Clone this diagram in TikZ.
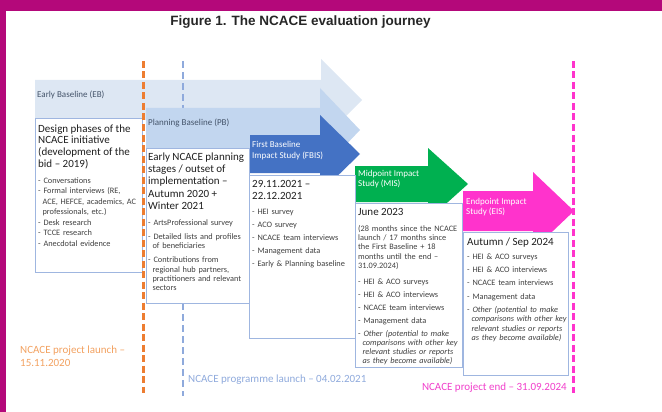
\documentclass[tikz,border=0pt]{standalone}
\usepackage{fontspec}
\setmainfont{Carlito}
\newfontfamily\titlefont{Liberation Sans}

\definecolor{framepurple}{HTML}{B4087A}
\definecolor{ebblue}{HTML}{DDE7F3}
\definecolor{pbblue}{HTML}{C2D6EF}
\definecolor{fbisblue}{HTML}{4472C4}
\definecolor{misgreen}{HTML}{00B050}
\definecolor{eispink}{HTML}{FF33CC}
\definecolor{boxline}{HTML}{9FB6E0}
\definecolor{phasegrey}{HTML}{44546A}
\definecolor{launchorange}{HTML}{ED7D31}
\definecolor{launchtext}{HTML}{F2A160}
\definecolor{progblue}{HTML}{8FAADC}
\definecolor{endpink}{HTML}{F03FCB}

\newcommand{\contind}{\hspace*{4.4pt}}

\tikzset{
  stagebox/.style={draw=boxline,fill=white,line width=0.8pt},
  stagehead/.style={anchor=north west,align=left,inner sep=0pt,text=black!88,
    font=\fontsize{11}{12}\selectfont},
  stagelist/.style={anchor=north west,align=left,inner sep=0pt,text=black!75,
    text width=100pt,font=\fontsize{8.3}{9.3}\selectfont},
  phaselabel/.style={anchor=north west,align=left,inner sep=0pt,
    font=\fontsize{9}{10.5}\selectfont},
  milestone/.style={line width=3pt,dash pattern=on 7pt off 3.5pt},
  datelabel/.style={inner sep=0pt,align=left,font=\fontsize{11}{13}\selectfont}
}

\begin{document}
\begin{tikzpicture}[x=1pt,y=-1pt]
  \useasboundingbox (0,0) rectangle (662,412);
  \fill[framepurple] (0,0) rectangle (662,11);
  \fill[framepurple] (0,0) rectangle (6,412);

  \node[font=\titlefont\bfseries\fontsize{13.5}{16}\selectfont,text=black!85]
    (title) at (300.5,22) {Figure 1. The NCACE evaluation journey};

  % phase arrows, back to front
  \fill[ebblue] (35,80) -- (321,80) -- (321,59) -- (362,100) -- (321,141) -- (321,120) -- (35,120) -- cycle;
  \draw[milestone,progblue,line width=2.5pt,dash pattern=on 7pt off 4pt] (183,61) -- (183,396);
  \fill[pbblue] (146,108) -- (320,108) -- (320,88) -- (360,130) -- (320,172) -- (320,152) -- (146,152) -- cycle;
  \fill[fbisblue] (250,135) -- (320,135) -- (320,115) -- (360,154) -- (320,193) -- (320,173) -- (250,173) -- cycle;
  \fill[misgreen] (355,166) -- (428,166) -- (428,148) -- (468,184) -- (428,220) -- (428,202) -- (355,202) -- cycle;
  \fill[eispink] (463,191) -- (533,191) -- (533,172) -- (574,211) -- (533,250) -- (533,231) -- (463,231) -- cycle;

  \draw[stagebox] (35,118) rectangle (142,272);
  \draw[stagebox] (146,148) rectangle (249,303);
  \draw[stagebox] (249,175) rectangle (355,338);
  \draw[stagebox] (355,203) rectangle (462,367);
  \draw[stagebox] (463,232) rectangle (568,375);

  \node[phaselabel,text=phasegrey] (eb) at (37,91.2) {Early Baseline (EB)};
  \node[phaselabel,text=phasegrey] (pb) at (148,118.7) {Planning Baseline (PB)};
  \node[phaselabel,text=white] (fbis) at (252,141.2) {First Baseline\\Impact Study (FBIS)};
  \node[phaselabel,text=white,font=\fontsize{9}{10}\selectfont] (mis) at (358,170.2) {Midpoint Impact\\Study (MIS)};
  \node[phaselabel,text=white,font=\fontsize{9}{10}\selectfont] (eis) at (466,198.2) {Endpoint Impact\\Study (EIS)};

  \node[stagehead,font=\fontsize{11}{11.7}\selectfont] (ebhead) at (38,124.4)
    {Design phases of the\\NCACE initiative\\(development of the\\bid – 2019)};
  \node[stagelist,font=\fontsize{8.3}{10.5}\selectfont,text width=104pt] (eblist) at (38,177.5)
    {- Conversations\\- Formal interviews (RE,\\\contind ACE, HEFCE, academics, AC\\\contind professionals, etc.)\\- Desk research\\- TCCE research\\- Anecdotal evidence};

  \node[stagehead,font=\fontsize{11}{12.3}\selectfont] (pbhead) at (148,152.4)
    {Early NCACE planning\\stages / outset of\\implementation –\\Autumn 2020 +\\Winter 2021};
  \node[stagelist] (pblist) at (148,219.5)
    {- ArtsProfessional survey\\[4.7pt]- Detailed lists and profiles\\\contind of beneficiaries\\[4.7pt]- Contributions from\\\contind regional hub partners,\\\contind practitioners and relevant\\\contind sectors};

  \node[stagehead] (fbishead) at (252,180.4) {29.11.2021 –\\22.12.2021};
  \node[stagelist] (fbislist) at (252,208.5)
    {- HEI survey\\[3.7pt]- ACO survey\\[3.7pt]- NCACE team interviews\\[3.7pt]- Management data\\[3.7pt]- Early \& Planning baseline};

  \node[stagehead] (mishead) at (358,208.4) {June 2023};
  \node[stagelist,font=\fontsize{8.3}{9.1}\selectfont,text width=104pt] (mislist) at (358,225.5)
    {(28 months since the NCACE\\launch / 17 months since\\the First Baseline + 18\\months until the end –\\31.09.2024)\\[7pt]- HEI \& ACO surveys\\[4pt]- HEI \& ACO interviews\\[4pt]- NCACE team interviews\\[4pt]- Management data\\[3.5pt]- \textit{Other (potential to make}\\\contind\textit{comparisons with other key}\\\contind\textit{relevant studies or reports}\\\contind\textit{as they become available)}};

  \node[stagehead] (eishead) at (467,237.4) {Autumn / Sep 2024};
  \node[stagelist] (eislist) at (467,253.5)
    {- HEI \& ACO surveys\\[4pt]- HEI \& ACO interviews\\[4pt]- NCACE team interviews\\[4pt]- Management data\\[4pt]- \textit{Other (potential to make}\\\contind\textit{comparisons with other key}\\\contind\textit{relevant studies or reports}\\\contind\textit{as they become available)}};

  % milestones
  \draw[milestone,launchorange] (143,61) -- (143,393);
  \draw[milestone,eispink] (573,61) -- (573,393);
  \node[datelabel,anchor=north west,text=launchtext] (launch) at (20,345.4)
    {NCACE project launch –\\15.11.2020};
  \node[datelabel,anchor=north west,text=progblue] (programme) at (188,374.4)
    {NCACE programme launch – 04.02.2021};
  \node[datelabel,anchor=north east,text=endpink] (projectend) at (567,382.4)
    {NCACE project end – 31.09.2024};
\end{tikzpicture}
\end{document}
